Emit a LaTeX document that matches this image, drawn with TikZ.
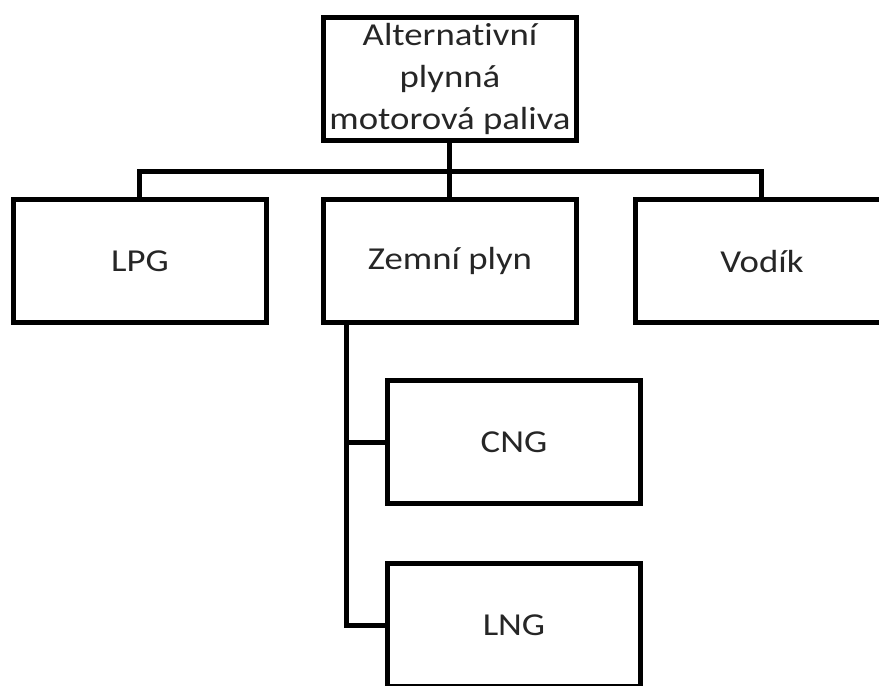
\documentclass[tikz,border=0pt]{standalone}
\usepackage{fontspec}
\setmainfont[FakeStretch=1.15,Ligatures=NoCommon]{Carlito}
\begin{document}
\begin{tikzpicture}[
    every node/.append style={font=\fontsize{9.1}{12}\selectfont},
    fuel/.style={draw=black, line width=0.05cm, minimum width=2.53cm,
      minimum height=1.23cm, inner sep=0pt, align=center, text=black!85},
    link/.style={line width=0.05cm}]
  \useasboundingbox (0,0) rectangle (8.79,-6.86);
  \clip (0,0) rectangle (8.79,-6.86);
  % top level
  \node [fuel] (root) at (4.50,-0.79) {Alternativní\\plynná\\motorová paliva};
  % second level
  \node [fuel] (lpg) at (1.40,-2.61) {LPG};
  \node [fuel] (zemni) at (4.50,-2.61) {Zemní plyn};
  \node [fuel] (vodik) at (7.62,-2.61) {Vodík};
  % kinds of natural gas
  \node [fuel] (cng) at (5.14,-4.42) {CNG};
  \node [fuel] (lng) at (5.14,-6.25) {LNG};
  % connectors
  \coordinate (bus) at (4.50,-1.71);
  \coordinate (trunk) at ([xshift=0.26cm]zemni.south west);
  \draw [link] (root) -- (zemni);
  \draw [link] (lpg.north) |- (bus) -| (vodik.north);
  \draw [link] (trunk) |- (lng.west);
  \draw [link] (trunk |- cng.west) -- (cng.west);
\end{tikzpicture}
\end{document}
